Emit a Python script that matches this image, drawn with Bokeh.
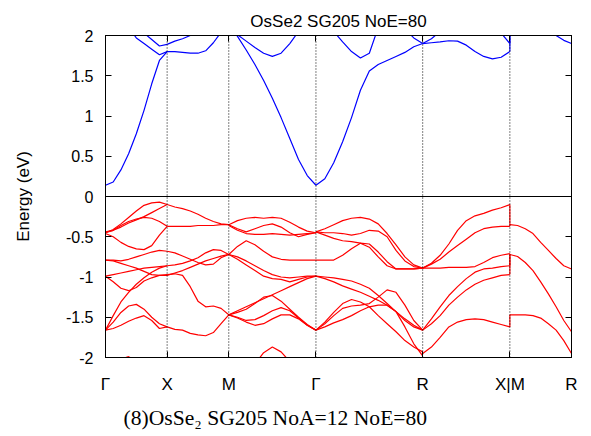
import numpy as np
from bokeh.plotting import figure
from bokeh.models import Range1d, FixedTicker, LinearAxis, Span, Title
from bokeh.embed import file_html
from bokeh.resources import INLINE

# ---------------- data ----------------
kpath_labels = ["Γ", "X", "M", "Γ", "R", "X|M", "R"]
kpath_pos = [0.0, 0.5, 1.0, 1.7071, 2.5731, 3.2802, 3.7802]
yticks = [-2, -1.5, -1, -0.5, 0, 0.5, 1, 1.5, 2]
title_text = "OsSe2 SG205 NoE=80"
caption_text = "(8)OsSe₂ SG205 NoA=12 NoE=80"

# Gamma -> X (9 k-points)
gx_cond = [
    [0.14, 0.18, 0.33, 0.53, 0.78, 1.07, 1.40, 1.69, 1.80],
    [2.60, 2.45, 2.30, 2.10, 1.97, 1.90, 1.83, 1.76, 1.80],
    [2.70, 2.55, 2.40, 2.25, 2.12, 2.03, 1.95, 1.87, 1.89],
]
gx_val = [
    [-0.45, -0.41, -0.34, -0.26, -0.18, -0.11, -0.08, -0.07, -0.10],
    [-0.44, -0.42, -0.38, -0.33, -0.29, -0.25, -0.20, -0.15, -0.10],
    [-0.45, -0.42, -0.36, -0.31, -0.28, -0.26, -0.27, -0.31, -0.37],
    [-0.46, -0.50, -0.57, -0.62, -0.65, -0.66, -0.61, -0.48, -0.37],
    [-0.79, -0.79, -0.80, -0.78, -0.75, -0.72, -0.69, -0.67, -0.68],
    [-0.79, -0.80, -0.83, -0.86, -0.89, -0.93, -0.97, -0.98, -0.98],
    [-0.99, -0.97, -0.95, -0.93, -0.91, -0.89, -0.88, -0.87, -0.86],
    [-0.99, -1.06, -1.14, -1.17, -1.13, -1.05, -1.01, -0.98, -0.97],
    [-1.66, -1.48, -1.31, -1.19, -1.09, -1.01, -0.94, -0.89, -0.86],
    [-1.66, -1.56, -1.44, -1.36, -1.34, -1.40, -1.50, -1.58, -1.62],
    [-1.66, -1.64, -1.60, -1.55, -1.51, -1.48, -1.54, -1.64, -1.62],
    [-2.30, -2.12, -2.02, -1.99, -2.04, -2.15, -2.30, -2.45, -2.60],
]

# X -> M (9 k-points)
xm_cond = [
    [1.80, 1.80, 1.79, 1.78, 1.78, 1.81, 1.91, 2.04, 2.20],
    [1.89, 1.93, 1.96, 2.00, 2.05, 2.10, 2.15, 2.20, 2.25],
]
xm_val = [
    [-0.10, -0.13, -0.15, -0.18, -0.22, -0.27, -0.31, -0.34, -0.35],
    [-0.37, -0.37, -0.37, -0.37, -0.36, -0.36, -0.36, -0.35, -0.35],
    [-0.68, -0.70, -0.74, -0.78, -0.82, -0.85, -0.84, -0.76, -0.72],
    [-0.86, -0.85, -0.83, -0.80, -0.76, -0.70, -0.66, -0.67, -0.72],
    [-0.98, -0.95, -0.92, -0.88, -0.84, -0.80, -0.77, -0.74, -0.72],
    [-0.97, -0.96, -0.98, -1.12, -1.30, -1.37, -1.36, -1.39, -1.47],
    [-1.62, -1.65, -1.66, -1.70, -1.72, -1.73, -1.69, -1.58, -1.47],
]

# M -> Gamma (11 k-points)
mg_cond = [
    [2.15, 1.99, 1.82, 1.64, 1.44, 1.22, 0.98, 0.72, 0.46, 0.26, 0.14],
    [2.10, 2.01, 1.93, 1.85, 1.78, 1.74, 1.78, 1.90, 2.05, 2.20, 2.35],
]
mg_val = [
    [-0.35, -0.30, -0.27, -0.26, -0.27, -0.26, -0.27, -0.32, -0.38, -0.43, -0.45],
    [-0.35, -0.40, -0.44, -0.40, -0.36, -0.34, -0.38, -0.45, -0.50, -0.47, -0.45],
    [-0.36, -0.42, -0.46, -0.47, -0.47, -0.46, -0.47, -0.48, -0.47, -0.46, -0.45],
    [-0.72, -0.62, -0.55, -0.60, -0.68, -0.75, -0.78, -0.79, -0.79, -0.79, -0.79],
    [-0.72, -0.75, -0.80, -0.86, -0.92, -0.97, -1.00, -1.01, -1.00, -0.99, -0.99],
    [-0.72, -0.78, -0.85, -0.92, -0.99, -1.02, -1.03, -1.06, -1.03, -1.00, -0.99],
    [-1.47, -1.42, -1.37, -1.32, -1.27, -1.22, -1.17, -1.12, -1.07, -1.02, -0.99],
    [-1.47, -1.44, -1.40, -1.33, -1.25, -1.23, -1.30, -1.40, -1.50, -1.59, -1.66],
    [-1.47, -1.50, -1.54, -1.53, -1.48, -1.42, -1.38, -1.42, -1.51, -1.60, -1.66],
    [-1.47, -1.51, -1.56, -1.60, -1.58, -1.52, -1.47, -1.47, -1.52, -1.60, -1.66],
    [-2.60, -2.40, -2.25, -2.08, -1.94, -1.87, -1.93, -2.05, -2.20, -2.35, -2.40],
]

# Gamma -> R (13 k-points)
gr_cond = [
    [0.14, 0.22, 0.42, 0.68, 0.98, 1.32, 1.56, 1.64, 1.69, 1.74, 1.79, 1.86, 1.90],
    [2.45, 2.25, 2.05, 1.92, 1.80, 1.72, 1.78, 2.10, 2.40, 2.60, 2.70, 2.75, 2.80],
    [3.00, 2.95, 2.90, 2.80, 2.70, 2.60, 2.50, 2.40, 2.30, 2.20, 2.08, 1.97, 1.90],
]
gr_val = [
    [-0.44, -0.40, -0.35, -0.30, -0.27, -0.26, -0.28, -0.34, -0.46, -0.60, -0.75, -0.85, -0.89],
    [-0.44, -0.45, -0.45, -0.46, -0.48, -0.46, -0.42, -0.43, -0.50, -0.67, -0.80, -0.87, -0.89],
    [-0.44, -0.48, -0.52, -0.55, -0.56, -0.58, -0.63, -0.75, -0.86, -0.90, -0.90, -0.90, -0.89],
    [-0.79, -0.79, -0.79, -0.73, -0.65, -0.58, -0.59, -0.69, -0.81, -0.90, -0.90, -0.90, -0.89],
    [-0.99, -1.02, -1.06, -1.11, -1.15, -1.19, -1.24, -1.29, -1.35, -1.43, -1.52, -1.60, -1.66],
    [-0.99, -1.00, -1.01, -1.03, -1.05, -1.09, -1.14, -1.23, -1.33, -1.43, -1.54, -1.62, -1.66],
    [-1.66, -1.56, -1.44, -1.33, -1.28, -1.31, -1.37, -1.48, -1.58, -1.68, -1.79, -1.87, -1.93],
    [-1.66, -1.58, -1.48, -1.39, -1.36, -1.35, -1.33, -1.25, -1.16, -1.19, -1.35, -1.54, -1.66],
    [-1.66, -1.62, -1.57, -1.53, -1.48, -1.42, -1.37, -1.35, -1.35, -1.43, -1.62, -1.83, -1.98],
]

# R -> X (11 k-points)
rx_cond = [
    [1.90, 1.91, 1.92, 1.935, 1.93, 1.88, 1.80, 1.74, 1.71, 1.73, 1.80],
    [1.90, 1.96, 2.05, 2.15, 2.25, 2.35, 2.45, 2.55, 2.60, 2.65, 2.70],
    [2.80, 2.70, 2.60, 2.50, 2.42, 2.35, 2.28, 2.20, 2.14, 2.03, 1.90],
]
rx_val = [
    [-0.89, -0.83, -0.73, -0.59, -0.42, -0.30, -0.24, -0.21, -0.17, -0.14, -0.10],
    [-0.89, -0.84, -0.78, -0.69, -0.61, -0.53, -0.45, -0.40, -0.38, -0.37, -0.37],
    [-0.89, -0.89, -0.89, -0.88, -0.88, -0.88, -0.87, -0.82, -0.76, -0.73, -0.71],
    [-1.66, -1.52, -1.37, -1.23, -1.12, -1.02, -0.94, -0.90, -0.89, -0.87, -0.86],
    [-1.66, -1.58, -1.48, -1.35, -1.25, -1.16, -1.09, -1.04, -1.01, -0.98, -0.97],
    [-1.95, -1.87, -1.75, -1.62, -1.56, -1.53, -1.52, -1.53, -1.56, -1.59, -1.62],
]

# M -> R (9 k-points)
mr_cond = [
    [2.50, 2.42, 2.34, 2.26, 2.18, 2.10, 2.00, 1.94, 1.90],
]
mr_val = [
    [-0.35, -0.36, -0.40, -0.46, -0.57, -0.67, -0.77, -0.86, -0.90],
    [-0.72, -0.745, -0.82, -0.92, -1.06, -1.21, -1.37, -1.54, -1.68],
    [-1.47, -1.47, -1.47, -1.48, -1.51, -1.58, -1.66, -1.79, -1.95],
]

# band connections across the X|M discontinuity (R->X band, M->R band)
xm_cond_links = [(0, 0), (2, 0)]
xm_val_links = [(0, 0), (1, 0), (2, 1), (3, 1), (4, 1), (5, 2)]

# ---------------- figure ----------------
p = figure(width=591, height=436, output_backend="svg", toolbar_location=None,
           x_range=Range1d(kpath_pos[0], kpath_pos[-1]), y_range=Range1d(-2, 2),
           min_border_left=105, min_border_right=20, min_border_top=35,
           min_border_bottom=79)
p.grid.visible = False
p.outline_line_color = "black"
p.outline_line_width = 1
p.background_fill_color = "white"
p.border_fill_color = "white"

p.title.text = title_text
p.title.align = "center"
p.title.text_font = "Liberation Sans"
p.title.text_font_size = "17px"
p.title.text_font_style = "normal"
p.title.text_color = "black"

BLUE = "#0000ff"
RED = "#ff0000"

segments = [
    (0, 1, gx_cond, gx_val),
    (1, 2, xm_cond, xm_val),
    (2, 3, mg_cond, mg_val),
    (3, 4, gr_cond, gr_val),
    (4, 5, rx_cond, rx_val),
    (5, 6, mr_cond, mr_val),
]

cxs, cys, vxs, vys = [], [], [], []
for a, b, cond, val in segments:
    n = len(cond[0])
    ks = list(np.linspace(kpath_pos[a], kpath_pos[b], n))
    for band in cond:
        cxs.append(ks); cys.append(band)
    for band in val:
        vxs.append(ks); vys.append(band)

kx = kpath_pos[5]
for i, j in xm_cond_links:
    cxs.append([kx, kx]); cys.append([rx_cond[i][-1], mr_cond[j][0]])
for i, j in xm_val_links:
    vxs.append([kx, kx]); vys.append([rx_val[i][-1], mr_val[j][0]])

p.multi_line(cxs, cys, line_color=BLUE, line_width=1.2)
p.multi_line(vxs, vys, line_color=RED, line_width=1.2)

for k in kpath_pos[1:-1]:
    p.add_layout(Span(location=k, dimension="height", line_color="black",
                      line_width=1, line_dash="1 2"))
p.add_layout(Span(location=0, dimension="width", line_color="black", line_width=1))

# axes
for ax in p.yaxis:
    ax.ticker = FixedTicker(ticks=yticks)
    ax.major_tick_in = 6
    ax.major_tick_out = 0
    ax.minor_tick_line_color = None
    ax.major_label_text_font = "Liberation Sans"
    ax.major_label_text_font_size = "16px"
    ax.major_label_text_color = "black"
    ax.major_label_standoff = 12
    ax.axis_line_color = "black"
    ax.major_label_overrides = {t: ("%g" % t) for t in yticks}
    ax.axis_label = "Energy (eV)"
    ax.axis_label_text_font = "Liberation Sans"
    ax.axis_label_text_font_size = "17px"
    ax.axis_label_text_font_style = "normal"
    ax.axis_label_text_color = "black"
    ax.axis_label_standoff = 30

for ax in p.xaxis:
    ax.ticker = FixedTicker(ticks=kpath_pos)
    ax.major_tick_in = 6
    ax.major_tick_out = 0
    ax.minor_tick_line_color = None
    ax.major_label_overrides = {k: lab for k, lab in zip(kpath_pos, kpath_labels)}
    ax.major_label_text_font = "Liberation Sans"
    ax.major_label_text_font_size = "17px"
    ax.major_label_text_color = "black"
    ax.major_label_standoff = 17
    ax.axis_line_color = "black"

ry = LinearAxis(ticker=FixedTicker(ticks=yticks), major_tick_in=6, major_tick_out=0,
                minor_tick_line_color=None, major_label_text_color=None,
                major_label_text_font_size="0px", axis_line_color="black")
p.add_layout(ry, "right")
tx = LinearAxis(ticker=FixedTicker(ticks=kpath_pos), major_tick_in=6, major_tick_out=0,
                minor_tick_line_color=None, major_label_text_color=None,
                major_label_text_font_size="0px", axis_line_color="black")
p.add_layout(tx, "above")

cap = Title(text=caption_text, align="left", offset=18, standoff=14,
            text_font="Liberation Serif", text_font_size="21.6px",
            text_font_style="normal", text_color="black")
p.add_layout(cap, "below")

open("out.html", "w").write(file_html(p, INLINE))
